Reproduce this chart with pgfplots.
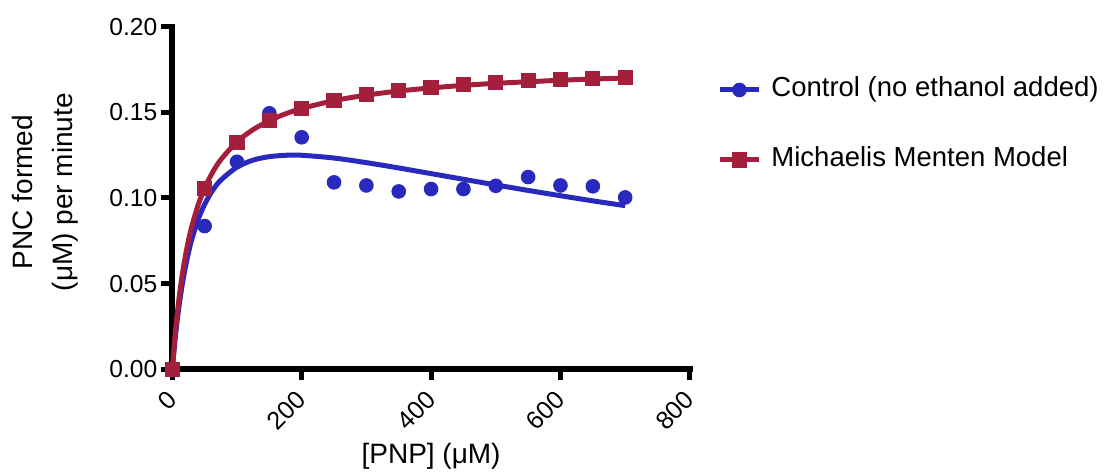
\documentclass[border=0pt]{standalone}
\usepackage{fontspec}
\setmainfont{Liberation Sans}
\usepackage{pgfplots}
\pgfplotsset{compat=1.18}
\definecolor{cblue}{RGB}{41,41,189}
\definecolor{cred}{RGB}{163,31,60}
\begin{document}
\begin{tikzpicture}
\path[use as bounding box] (-86.15pt,-53.35pt) rectangle (468.35pt,184.65pt);
\begin{axis}[
  at={(0pt,0pt)}, anchor=south west,
  width=258.8pt, height=171.35pt, scale only axis,
  xmin=0, xmax=800, ymin=0, ymax=0.2,
  axis lines*=left,
  axis line style={-, line width=3pt, line cap=rect, black},
  xtick={0,200,400,600,800},
  ytick={0,0.05,0.1,0.15,0.2},
  tick align=outside,
  major tick length=5.5pt,
  tick style={line width=2.5pt, black},
  clip=false,
  /pgf/number format/assume math mode=true,
  tick label style={font=\fontsize{12.3}{14}\selectfont},
  yticklabel style={/pgf/number format/fixed, /pgf/number format/fixed zerofill, /pgf/number format/precision=2, anchor=east, inner sep=0pt},
  yticklabel shift=1.8pt,
  xticklabel style={rotate=45, anchor=east, inner sep=0pt, font=\fontsize{12.6}{14}\selectfont},
  xticklabel shift=7.5pt,
  label style={font=\fontsize{14}{20}\selectfont},
  xlabel={[PNP] (μM)},
  xlabel style={at={(axis description cs:0.5,-0.2763)}, anchor=base},
  ylabel={PNC formed\\(μM) per minute},
  ylabel style={at={(axis description cs:-0.2459,0.517)}, anchor=center, align=center},
  legend style={draw=none, fill=none, at={(axis description cs:1.0525,0.7129)}, anchor=west,
    inner sep=0pt, row sep=22pt, column sep=5pt,
    font=\fontsize{13.75}{16}\selectfont,
    nodes={inner sep=0pt, text height=10pt, text depth=3pt}},
  legend cell align=left,
  legend image code/.code={\draw[mark repeat=2,mark phase=2,#1] plot coordinates {(0pt,0pt) (9.75pt,0pt) (19.5pt,0pt)};},
]
% Control fit (substrate inhibition curve)
\addplot[cblue, line width=2.5pt, smooth, no markers, forget plot] coordinates {
(0,0) (5,0.0199) (10,0.0357) (15,0.0486) (20,0.0592) (25,0.0681) (30,0.0756) (40,0.0875)
(50,0.0963) (62.5,0.1045) (75,0.1104) (100,0.1180) (125,0.1221) (150,0.1241) (175,0.1249)
(200,0.1249) (250,0.1233) (300,0.1206) (350,0.1175) (400,0.1142) (450,0.1109) (500,0.1076)
(550,0.1044) (600,0.1013) (650,0.0983) (700,0.0955)};
% Control data
\addplot[only marks, mark=*, mark size=3.4pt, mark options={fill=cblue, draw=cblue, line width=0.5pt}, forget plot] coordinates {
(0,0) (50,0.0836) (100,0.1211) (150,0.1494) (200,0.1354) (250,0.1091) (300,0.1073) (350,0.1038)
(400,0.1052) (450,0.1052) (500,0.1071) (550,0.1122) (600,0.1073) (650,0.1068) (700,0.1003)};
% Michaelis Menten curve
\addplot[cred, line width=2.5pt, smooth, no markers, forget plot] coordinates {
(0,0) (5,0.0227) (10,0.0402) (15,0.0542) (20,0.0657) (25,0.0752) (30,0.0832) (40,0.0960)
(50,0.1058) (62.5,0.1151) (75,0.1223) (100,0.1328) (125,0.1399) (150,0.1451) (175,0.1491)
(200,0.1522) (250,0.1568) (300,0.1600) (350,0.1624) (400,0.1642) (450,0.1657) (500,0.1669)
(550,0.1678) (600,0.1687) (650,0.1694) (700,0.1700)};
% Michaelis Menten points
\addplot[only marks, mark=square*, mark size=3.55pt, mark options={fill=cred, draw=cred, line width=0.5pt}, forget plot] coordinates {
(0,0) (50,0.1056) (100,0.1322) (150,0.1450) (200,0.1523) (250,0.1570) (300,0.1604) (350,0.1628)
(400,0.1645) (450,0.1663) (500,0.1674) (550,0.1686) (600,0.1692) (650,0.1698) (700,0.1704)};
\addlegendimage{cblue, line width=2.5pt, mark=*, mark size=3.4pt, mark options={fill=cblue, draw=cblue, line width=0.5pt}}
\addlegendentry{Control (no ethanol added)}
\addlegendimage{cred, line width=2.5pt, mark=square*, mark size=3.55pt, mark options={fill=cred, draw=cred, line width=0.5pt}}
\addlegendentry{Michaelis Menten Model}
\end{axis}
\end{tikzpicture}
\end{document}
